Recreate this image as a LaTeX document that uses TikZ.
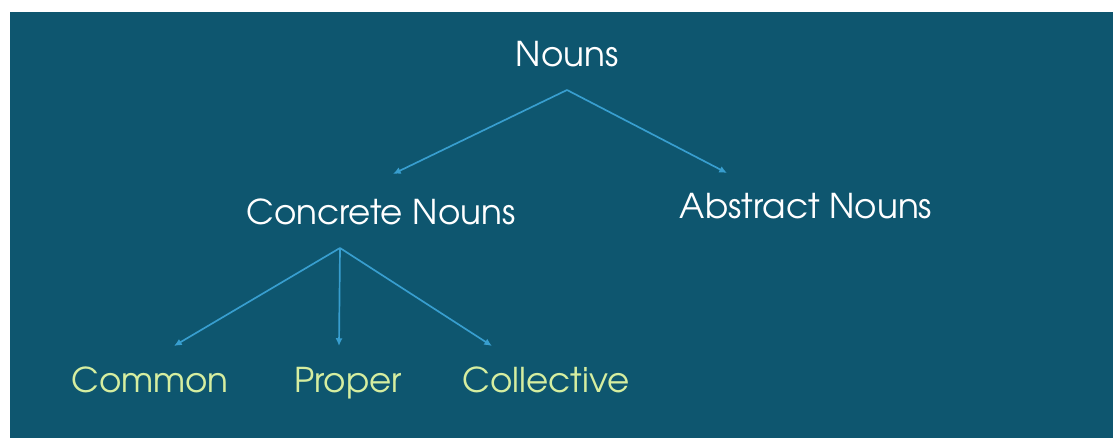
\documentclass[tikz,border=0pt]{standalone}
\usepackage{fontspec}
\setmainfont{TeX Gyre Adventor}
\usetikzlibrary{arrows.meta}
\definecolor{T}{RGB}{14, 86, 111}
\definecolor{A}{RGB}{56, 158, 207}
\definecolor{G}{RGB}{214, 238, 160}

\begin{document}
\begin{tikzpicture}[x=0.025cm, y=-0.025cm,
    lbl/.style={anchor=base, inner sep=0pt, font=\fontsize{24.3}{29}\selectfont},
    link/.style={draw=A, line width=1.2pt, -{Latex[length=5.5pt, width=5pt]}}]
    \useasboundingbox (0,0) rectangle (1113,438);
    % fondo
    \fill[white] (0,0) rectangle (1113,438);
    \fill[T] (10,12) rectangle (1113,438);

    % niveles del arbol
    \node[lbl, white] (nouns) at (567,67) {Nouns};
    \node[lbl, white] (concrete) at (381,225) {Concrete Nouns};
    \node[lbl, white] (abstract) at (806,219) {Abstract Nouns};
    \node[lbl, G] (common) at (150,393) {Common};
    \node[lbl, G] (proper) at (348,393) {Proper};
    \node[lbl, G] (collective) at (546,393) {Collective};

    % puntos de las flechas
    \coordinate (nfork) at (567,90);
    \coordinate (ctip) at (393,174);
    \coordinate (atip) at (727,173);
    \coordinate (cfork) at (340,248);
    \coordinate (comtip) at (174,346);
    \coordinate (protip) at (339,346);
    \coordinate (coltip) at (492,346);

    % flechas
    \draw[link] (nfork) -- (ctip);
    \draw[link] (nfork) -- (atip);
    \draw[link] (cfork) -- (comtip);
    \draw[link] (cfork) -- (protip);
    \draw[link] (cfork) -- (coltip);
\end{tikzpicture}
\end{document}
